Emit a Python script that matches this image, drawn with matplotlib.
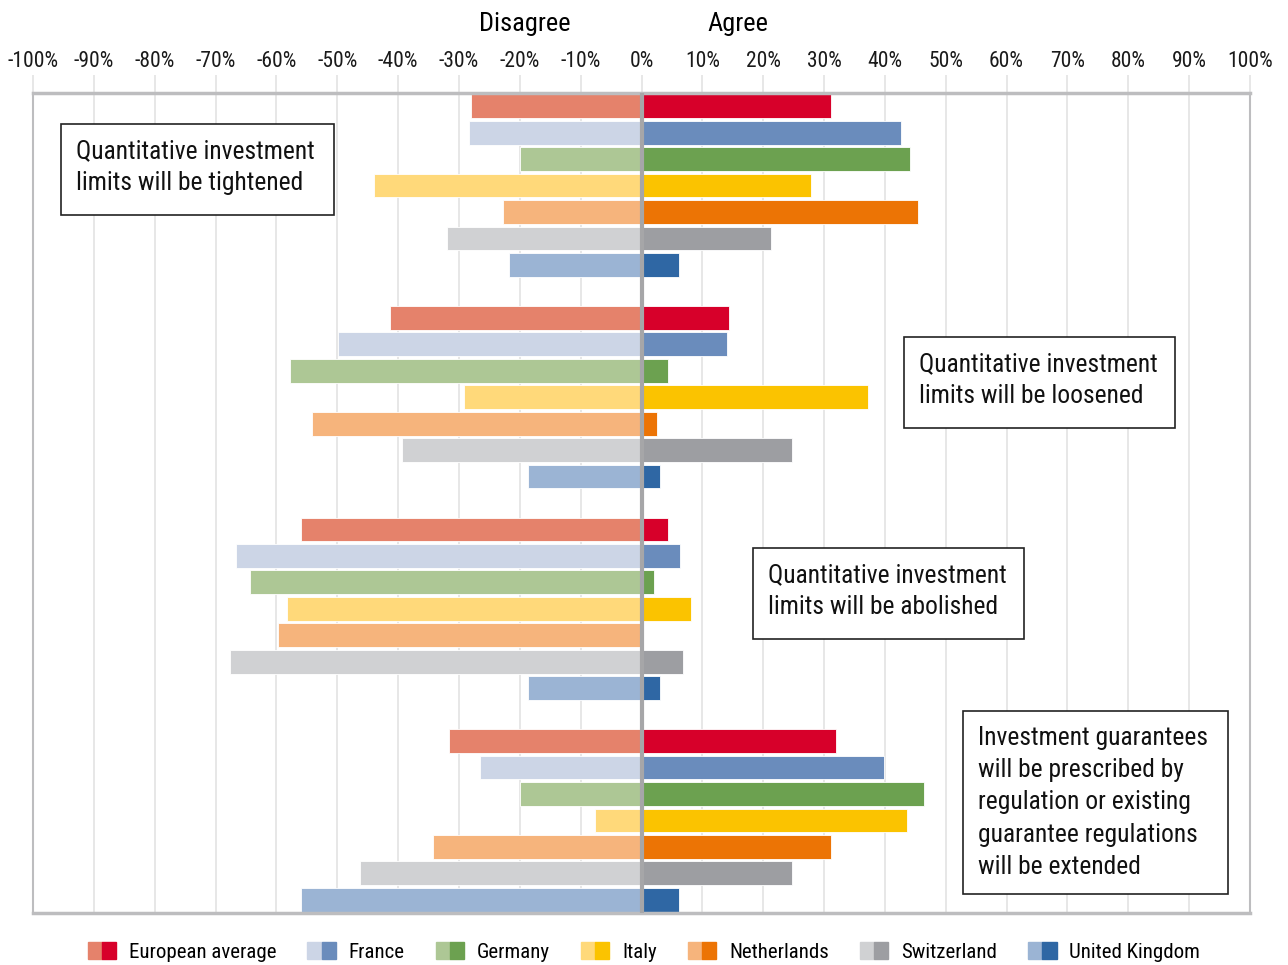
import matplotlib
matplotlib.use('Agg')
import matplotlib.pyplot as plt
from matplotlib.patches import Patch, Rectangle
from matplotlib.legend_handler import HandlerTuple
from matplotlib.ticker import FuncFormatter

plt.rcParams['font.family'] = ['Roboto Condensed', 'Liberation Sans Narrow', 'Lato', 'DejaVu Sans']

# countries, light colour = disagree, dark colour = agree
countries = ['European average', 'France', 'Germany', 'Italy', 'Netherlands', 'Switzerland', 'United Kingdom']
light_colors = ['#E5826B', '#CCD5E6', '#ADC795', '#FFD97A', '#F6B47C', '#D0D1D3', '#9BB4D4']
dark_colors = ['#D7002A', '#6A8CBC', '#6CA150', '#FBC300', '#EC7405', '#9D9EA2', '#2F67A4']

statements = [
    'Quantitative investment\nlimits will be tightened',
    'Quantitative investment\nlimits will be loosened',
    'Quantitative investment\nlimits will be abolished',
    'Investment guarantees\nwill be prescribed by\nregulation or existing\nguarantee regulations\nwill be extended',
]

# percentages per statement, one value per country
disagree_tightened = [28.1, 28.4, 19.9, 43.9, 22.7, 31.9, 21.7]
agree_tightened = [31.2, 42.6, 44.2, 27.8, 45.5, 21.2, 6.1]
disagree_loosened = [41.4, 49.8, 57.7, 29.1, 54.1, 39.3, 18.6]
agree_loosened = [14.3, 14.1, 4.3, 37.3, 2.6, 24.8, 3.0]
disagree_abolished = [55.9, 66.6, 64.3, 58.2, 59.8, 67.7, 18.6]
agree_abolished = [4.4, 6.4, 2.0, 8.1, 0.0, 6.9, 3.0]
disagree_guarantees = [31.7, 26.5, 19.9, 7.7, 34.2, 46.2, 56.0]
agree_guarantees = [32.0, 39.8, 46.5, 43.7, 31.2, 24.8, 6.1]

disagree_all = [disagree_tightened, disagree_loosened, disagree_abolished, disagree_guarantees]
agree_all = [agree_tightened, agree_loosened, agree_abolished, agree_guarantees]

fig = plt.figure(figsize=(12.88, 9.65), dpi=100)
ax = fig.add_axes([33 / 1288, 1 - 913 / 965, (1250 - 33) / 1288, (913 - 93) / 965])

n = len(countries)
for g in range(4):
    start = g * (n + 1)
    for i in range(n):
        y = start + i
        ax.barh(y, -disagree_all[g][i], height=0.9, color=light_colors[i], edgecolor='white', linewidth=0.6, zorder=2)
        ax.barh(y, agree_all[g][i], height=0.9, color=dark_colors[i], edgecolor='white', linewidth=0.6, zorder=2)

ax.set_xlim(-100, 100)
ax.set_ylim(4 * (n + 1) - 1 - 0.5, -0.5)
ax.set_yticks([])
ax.set_xticks(range(-100, 101, 10))
ax.xaxis.set_major_formatter(FuncFormatter(lambda v, p: f'{int(v)}%'))
ax.xaxis.tick_top()
ax.tick_params(axis='x', length=13, width=1.2, color='#E3E3E3', labelsize=15.5, pad=2, labelcolor='#1a1a1a')
ax.grid(axis='x', color='#E3E3E3', linewidth=1.2, zorder=0)
ax.axvline(0, color='#A6A6A8', linewidth=3, zorder=3)

for s in ['top', 'bottom']:
    ax.spines[s].set_color('#BDBDBF')
    ax.spines[s].set_linewidth(2.5)
for s in ['left', 'right']:
    ax.spines[s].set_color('#BDBDBF')
    ax.spines[s].set_linewidth(1.5)

ax.text(-19.2, 1.084, 'Disagree', transform=ax.get_xaxis_transform(), ha='center', va='center', fontsize=19)
ax.text(15.8, 1.084, 'Agree', transform=ax.get_xaxis_transform(), ha='center', va='center', fontsize=19)

# annotation boxes (pixel layout of the original)
boxes = [(61, 124, 334, 215), (904, 337, 1175, 428), (753, 548, 1024, 639), (963, 711, 1228, 894)]
for (x0, y0, x1, y1), label in zip(boxes, statements):
    rect = Rectangle((x0 / 1288, 1 - y1 / 965), (x1 - x0) / 1288, (y1 - y0) / 965,
                     transform=fig.transFigure, facecolor='white', edgecolor='#222222', linewidth=1.2, zorder=5)
    fig.patches.append(rect)
    fig.text((x0 + 15) / 1288, 1 - (y0 + 15) / 965, label, ha='left', va='top', fontsize=18.4,
             linespacing=1.43, color='#111111', zorder=6)

handles = [(Patch(color=light_colors[i]), Patch(color=dark_colors[i])) for i in range(n)]
fig.legend(handles, countries, loc='center', bbox_to_anchor=(0.5, 1 - 952 / 965), ncol=n, frameon=False,
           handler_map={tuple: HandlerTuple(ndivide=None, pad=0)}, fontsize=15, handlelength=1.35,
           handleheight=0.9, columnspacing=1.5, handletextpad=0.62)

fig.savefig('out.png', dpi=100)
